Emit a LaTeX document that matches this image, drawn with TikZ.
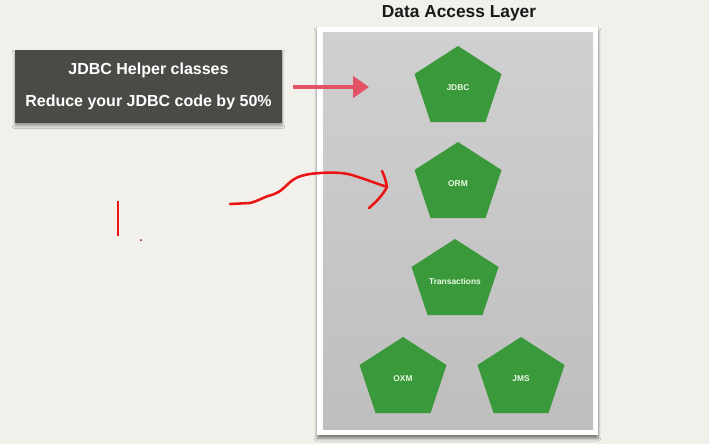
\documentclass[tikz,border=0pt]{standalone}
\usepackage{fontspec}
\setmainfont{Liberation Sans}
\usetikzlibrary{arrows.meta,shadows.blur}
\definecolor{bgpaper}{RGB}{242,240,235}
\definecolor{darkbox}{RGB}{76,74,71}
\definecolor{pentgreen}{RGB}{58,153,58}
\definecolor{panelgraytop}{RGB}{208,208,208}
\definecolor{panelgraybot}{RGB}{190,190,190}
\definecolor{arrowred}{RGB}{228,82,102}
\definecolor{inkred}{RGB}{235,20,20}
\definecolor{penttextcol}{RGB}{235,248,228}
\tikzset{
  helperbox/.style={fill=darkbox, text=white, font=\fontsize{12}{12}\selectfont\bfseries,
    minimum width=200.25pt, minimum height=54.75pt, inner sep=0pt, align=center,
    blur shadow={shadow xshift=0pt, shadow yshift=-2.5pt, shadow blur steps=8, shadow opacity=40}},
  frameouter/.style={fill=white, minimum width=210.75pt, minimum height=306pt, inner sep=0pt,
    blur shadow={shadow xshift=0pt, shadow yshift=-2.5pt, shadow blur steps=6, shadow opacity=50}},
  frameinner/.style={top color=panelgraytop, bottom color=panelgraybot, minimum width=202.5pt,
    minimum height=297.75pt, inner sep=0pt},
  titletext/.style={font=\fontsize{13}{13}\selectfont\bfseries, text=black!90},
  pentfill/.style={fill=pentgreen},
  penttext/.style={font=\fontsize{6.3}{7}\selectfont\bfseries, text=penttextcol, inner sep=0pt},
  bigarrow/.style={draw=arrowred, line width=3pt, -{Triangle[length=12pt,width=16pt]}},
  ink/.style={draw=inkred, line width=1.9pt, line cap=round, line join=round}
}
\newcommand{\pentnode}[4]{%
  \fill[pentfill] (#2,#3) -- ++(43.5,28) -- ++(-16,48) -- ++(-55,0) -- ++(-16,-48) -- cycle;
  \node[penttext] (#1) at (#2,#3+42) {#4};
}
\begin{document}
\begin{tikzpicture}[x=0.75pt,y=-0.75pt]
\useasboundingbox (0,0) rectangle (709,444);
\fill[bgpaper] (0,0) rectangle (709,444);
% title
\node[titletext] (title) at (459,13) {Data Access Layer};
% panel
\node[frameouter] (frame) at (457.5,231) {};
\node[frameinner] (panel) at (458,230.5) {};
% helper box
\node[helperbox] (helper) at (148.5,86) {JDBC Helper classes\\[12pt]Reduce your JDBC code by 50\%};
% pentagons
\pentnode{jdbc}{458}{46}{JDBC}
\pentnode{orm}{458}{142}{ORM}
\pentnode{tx}{455}{239}{Transactions}
\pentnode{oxm}{403}{337}{OXM}
\pentnode{jms}{521}{337}{JMS}
% red arrow
\coordinate (arrowtip) at (369,87);
\draw[bigarrow, shorten <=8.25pt] (helper.east |- arrowtip) -- (arrowtip);
% hand-drawn ink
\coordinate (inkstart) at (230,204);
\coordinate (inktip) at (387,187);
\draw[ink] (inkstart) -- (250,203) .. controls (258,201) and (262,198) .. (268,196)
  .. controls (276,194) and (280,192) .. (288,184)
  .. controls (296,176) and (305,174) .. (320,173)
  .. controls (335,172) and (345,173) .. (352,175)
  .. controls (365,179) and (378,184) .. (inktip);
\draw[ink] (382,171) .. controls (385,177) and (386,182) .. (inktip);
\draw[ink] (inktip) .. controls (382,196) and (376,202) .. (369,208);
\coordinate (barTop) at (118,201);
\coordinate (barBot) at (118,236);
\draw[ink, line width=2.2pt, line cap=butt] (barTop) -- (barBot);
\coordinate (inkdot) at (141,240);
\fill[inkred!70!black] (inkdot) circle (1);
\end{tikzpicture}
\end{document}
